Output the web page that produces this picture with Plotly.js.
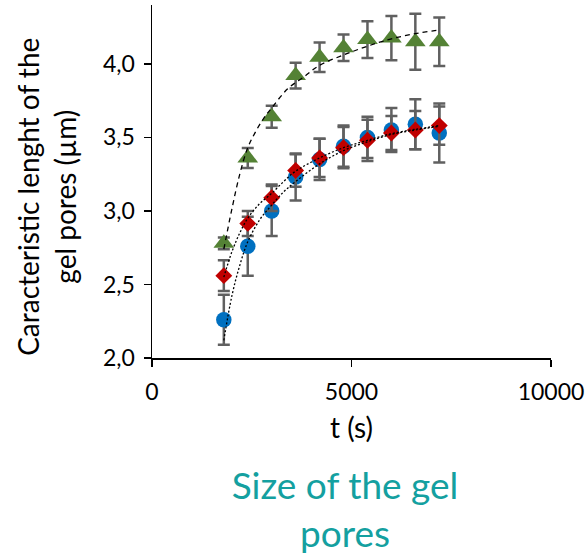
<!DOCTYPE html>
<html>
<head>
<meta charset="utf-8">
<script src="https://cdn.plot.ly/plotly-3.0.1.min.js"></script>
<style>
  html, body { margin: 0; padding: 0; background: #ffffff; }
  #chart { width: 586px; height: 557px; }
</style>
</head>
<body>
<div id="chart"></div>
<script>
// ---- data ----
const timeS = [1800, 2400, 3000, 3600, 4200, 4800, 5400, 6000, 6600, 7200];

const blueY   = [2.26, 2.76, 3.00, 3.23, 3.35, 3.44, 3.50, 3.55, 3.59, 3.53];
const blueErr = [0.17, 0.20, 0.17, 0.16, 0.14, 0.14, 0.14, 0.15, 0.17, 0.20];

const redY    = [2.56, 2.915, 3.09, 3.275, 3.36, 3.43, 3.48, 3.53, 3.55, 3.58];
const redErr  = [0.105, 0.085, 0.09, 0.11, 0.13, 0.14, 0.14, 0.115, 0.13, 0.13];

const greenY   = [2.78, 3.36, 3.64, 3.92, 4.045, 4.11, 4.165, 4.175, 4.15, 4.15];
const greenErr = [0.04, 0.068, 0.075, 0.087, 0.10, 0.09, 0.125, 0.15, 0.19, 0.165];

// trend lines
const fitTimeGreen = [1800, 2000, 2200, 2400, 2600, 2800, 3000, 3400, 3800, 4200, 4800, 5400, 6000, 6600, 7200];
const fitGreen     = [2.74, 3.01, 3.25, 3.43, 3.54, 3.63, 3.70, 3.83, 3.91, 3.99, 4.06, 4.12, 4.17, 4.205, 4.23];
const fitTime      = [1800, 2000, 2200, 2400, 2700, 3000, 3300, 3600, 4200, 4800, 5400, 6000, 6600, 7200];
const fitBlue      = [2.12, 2.42, 2.63, 2.79, 2.94, 3.04, 3.13, 3.20, 3.32, 3.41, 3.47, 3.52, 3.55, 3.575];
const fitRed       = [2.55, 2.72, 2.85, 2.95, 3.05, 3.12, 3.20, 3.27, 3.36, 3.43, 3.48, 3.525, 3.555, 3.58];

const xTickVals = [0, 5000, 10000];
const yTickVals = [2.0, 2.5, 3.0, 3.5, 4.0];

const titleText = 'Size of the gel<br>pores';
const xTitle = 't (s)';
const yTitle = 'Caracteristic lenght of the<br>gel pores (µm)';

// ---- styling ----
const FONT = 'Lato, "Open Sans", sans-serif';
const errColor = '#606060';

function errBar(arr) {
  return { type: 'data', array: arr, visible: true, color: errColor, thickness: 2.5, width: 6 };
}

const traces = [
  {
    x: timeS, y: greenY, mode: 'markers', type: 'scatter', name: 'green',
    marker: { symbol: 'triangle-up', size: 18, color: '#548235' },
    error_y: errBar(greenErr)
  },
  {
    x: timeS, y: blueY, mode: 'markers', type: 'scatter', name: 'blue',
    marker: { symbol: 'circle', size: 15.5, color: '#0070C0' },
    error_y: errBar(blueErr)
  },
  {
    x: timeS, y: redY, mode: 'markers', type: 'scatter', name: 'red',
    marker: { symbol: 'diamond', size: 13, color: '#C00000' },
    error_y: errBar(redErr)
  },
  {
    x: fitTimeGreen, y: fitGreen, mode: 'lines', type: 'scatter', name: 'fit green',
    line: { color: '#000000', width: 1.3, dash: '5px,4px', shape: 'spline' }
  },
  {
    x: fitTime, y: fitBlue, mode: 'lines', type: 'scatter', name: 'fit blue',
    line: { color: '#000000', width: 1.3, dash: '2px,2px', shape: 'spline' }
  },
  {
    x: fitTime, y: fitRed, mode: 'lines', type: 'scatter', name: 'fit red',
    line: { color: '#000000', width: 1.3, dash: '2px,2px', shape: 'spline' }
  }
];

const layout = {
  width: 586, height: 557,
  margin: { l: 152, r: 35, t: 5, b: 199 },
  paper_bgcolor: '#ffffff', plot_bgcolor: '#ffffff',
  showlegend: false,
  separators: ',.',
  font: { family: FONT, color: '#000000', size: 23 },
  title: {
    text: titleText,
    font: { family: FONT, size: 37, color: '#14a0a0' },
    xref: 'container', yref: 'container',
    x: 345 / 586, xanchor: 'center',
    y: 1 - 499 / 557, yanchor: 'middle'
  },
  xaxis: {
    range: [0, 10000],
    tickvals: xTickVals, tickformat: 'd',
    showgrid: false, zeroline: false,
    showline: true, linecolor: '#000000', linewidth: 1.5,
    ticks: 'outside', ticklen: 7, tickwidth: 1.5, tickcolor: '#000000',
    ticklabelstandoff: 6,
    tickfont: { family: FONT, size: 23, color: '#000000' },
    title: { text: xTitle, font: { family: FONT, size: 28, color: '#000000' }, standoff: 14 },
    fixedrange: true
  },
  yaxis: {
    range: [2, 4.4],
    tickvals: yTickVals, tickformat: '.1f',
    showgrid: false, zeroline: false,
    showline: true, linecolor: '#000000', linewidth: 1.5,
    ticks: 'outside', ticklen: 7, tickwidth: 1.5, tickcolor: '#000000',
    ticklabelstandoff: 4,
    tickfont: { family: FONT, size: 23, color: '#000000' },
    fixedrange: true
  },
  annotations: [
    {
      text: yTitle, textangle: -90, showarrow: false,
      xref: 'paper', yref: 'paper',
      x: (46 - 152) / 399, xanchor: 'center',
      y: (358.3 - 197) / 353.3, yanchor: 'middle',
      font: { family: FONT, size: 28, color: '#000000' }
    }
  ]
};

Plotly.newPlot('chart', traces, layout, { staticPlot: true, displayModeBar: false });
</script>
</body>
</html>
